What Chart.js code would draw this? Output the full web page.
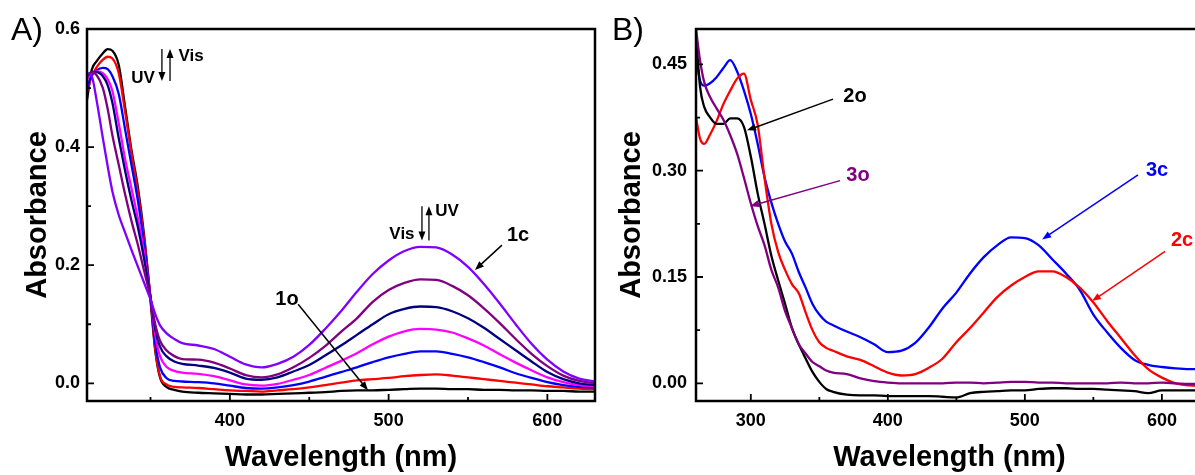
<!DOCTYPE html>
<html>
<head>
<meta charset="utf-8">
<script src="https://cdn.jsdelivr.net/npm/chart.js@4.4.1/dist/chart.umd.min.js"></script>
<style>
  html, body { margin: 0; padding: 0; background: #fff; overflow: hidden; }
  #wrap { position: relative; width: 1195px; height: 475px; overflow: hidden; }
  #chartA { position: absolute; left: 0; top: 0; }
  #chartB { position: absolute; left: 600px; top: 0; }
</style>
</head>
<body>
<div id="wrap">
  <canvas id="chartA" width="600" height="475"></canvas>
  <canvas id="chartB" width="620" height="475"></canvas>
</div>
<script>
// ---- panel A: photo-switching of 1 (1o -> 1c) ----
const wavelengthA = [310, 313, 316, 320, 323, 326, 330, 334, 338, 342, 346, 350, 353, 356, 360, 365, 370,
  380, 390, 400, 410, 420, 430, 440, 450, 460, 470, 480, 490, 500, 510, 520, 530, 540, 550, 560, 570, 580, 590, 600, 610, 620, 630];

const absA_black = [0.48, 0.531, 0.545, 0.559, 0.566, 0.563, 0.539, 0.468, 0.395, 0.333, 0.25, 0.14, 0.055, 0.01, -0.006, -0.011, -0.014,
  -0.016, -0.017, -0.018, -0.019, -0.019, -0.018, -0.017, -0.016, -0.015, -0.013, -0.012, -0.012, -0.011, -0.01, -0.009, -0.009, -0.01, -0.01, -0.011, -0.011, -0.012, -0.012, -0.013, -0.013, -0.014, -0.014];
const absA_red = [0.494, 0.52, 0.535, 0.548, 0.553, 0.55, 0.525, 0.46, 0.39, 0.325, 0.245, 0.145, 0.058, 0.012, -0.002, -0.006, -0.007,
  -0.008, -0.01, -0.012, -0.013, -0.014, -0.012, -0.01, -0.007, -0.003, 0.001, 0.005, 0.007, 0.009, 0.012, 0.014, 0.015, 0.013, 0.01, 0.007, 0.004, 0.001, -0.002, -0.005, -0.007, -0.009, -0.01];
const absA_blue = [0.5, 0.522, 0.53, 0.534, 0.532, 0.52, 0.49, 0.43, 0.37, 0.31, 0.235, 0.145, 0.068, 0.027, 0.009, 0.004, 0.003,
  0.002, 0.0, -0.004, -0.008, -0.009, -0.007, -0.003, 0.003, 0.011, 0.019, 0.027, 0.036, 0.044, 0.05, 0.054, 0.054, 0.05, 0.044, 0.036, 0.027, 0.017, 0.009, 0.002, -0.003, -0.006, -0.007];
const absA_magenta = [0.515, 0.525, 0.528, 0.525, 0.515, 0.495, 0.44, 0.38, 0.33, 0.28, 0.22, 0.145, 0.082, 0.046, 0.028, 0.021, 0.018,
  0.016, 0.012, 0.005, -0.002, -0.004, -0.001, 0.006, 0.014, 0.026, 0.038, 0.051, 0.066, 0.079, 0.088, 0.092, 0.091, 0.086, 0.076, 0.064, 0.049, 0.035, 0.022, 0.01, 0.002, -0.003, -0.005];
const absA_navy = [0.52, 0.527, 0.527, 0.52, 0.505, 0.475, 0.415, 0.36, 0.31, 0.265, 0.21, 0.145, 0.092, 0.062, 0.046, 0.037, 0.033,
  0.03, 0.026, 0.018, 0.008, 0.006, 0.01, 0.02, 0.031, 0.047, 0.064, 0.082, 0.1, 0.117, 0.126, 0.13, 0.129, 0.122, 0.11, 0.094, 0.075, 0.056, 0.037, 0.019, 0.007, 0.0, -0.003];
const absA_purple = [0.522, 0.527, 0.522, 0.5, 0.465, 0.42, 0.37, 0.32, 0.275, 0.235, 0.19, 0.145, 0.1, 0.072, 0.056, 0.046, 0.041,
  0.04, 0.035, 0.025, 0.014, 0.01, 0.015, 0.027, 0.043, 0.063, 0.087, 0.11, 0.138, 0.158, 0.17, 0.176, 0.175, 0.165, 0.149, 0.127, 0.102, 0.075, 0.05, 0.029, 0.013, 0.004, 0.0];
const absA_violet = [0.525, 0.52, 0.48, 0.415, 0.368, 0.325, 0.285, 0.255, 0.226, 0.198, 0.17, 0.142, 0.117, 0.098, 0.085, 0.075, 0.068,
  0.064, 0.058, 0.045, 0.032, 0.027, 0.033, 0.045, 0.065, 0.092, 0.122, 0.155, 0.185, 0.208, 0.224, 0.231, 0.23, 0.218, 0.197, 0.168, 0.135, 0.1, 0.067, 0.04, 0.02, 0.008, 0.003];

const xTicksA = [400, 500, 600];
const xMinorA = [350, 450, 550];
const yTicksA = [0.0, 0.2, 0.4, 0.6];
const yMinorA = [0.1, 0.3, 0.5];

// ---- panel B: open (2o, 3o) and closed (2c, 3c) forms ----
const wavelengthB = [260, 263, 266, 270, 275, 280, 285, 290, 295, 300, 305, 310, 315, 320, 325, 330, 335, 340, 345, 350, 355, 360,
  370, 380, 390, 400, 410, 420, 430, 440, 450, 460, 470, 480, 490, 500, 510, 520, 530, 540, 550, 560, 570, 580, 590, 600, 610, 620, 630];

const absB_2o = [0.492, 0.418, 0.39, 0.376, 0.366, 0.366, 0.374, 0.374, 0.362, 0.32, 0.268, 0.225, 0.18, 0.145, 0.112, 0.078, 0.055, 0.035, 0.016, 0.002, -0.008, -0.012,
  -0.016, -0.017, -0.017, -0.018, -0.018, -0.018, -0.018, -0.019, -0.02, -0.014, -0.012, -0.011, -0.01, -0.01, -0.008, -0.007, -0.007, -0.008, -0.008, -0.009, -0.01, -0.011, -0.014, -0.01, -0.01, -0.01, -0.01];
const absB_3o = [0.5, 0.455, 0.425, 0.405, 0.388, 0.372, 0.35, 0.324, 0.29, 0.254, 0.222, 0.195, 0.16, 0.135, 0.102, 0.078, 0.055, 0.042, 0.03, 0.024, 0.018, 0.015,
  0.013, 0.007, 0.003, 0.001, 0.0, 0.0, 0.0, 0.0, 0.001, 0.001, 0.0, 0.001, 0.002, 0.002, 0.001, 0.001, 0.0, 0.0, 0.0, 0.0, 0.001, 0.0, 0.0, 0.001, 0.0, -0.001, -0.001];
const absB_2c = [0.375, 0.345, 0.338, 0.35, 0.37, 0.394, 0.413, 0.43, 0.437, 0.4, 0.365, 0.29, 0.225, 0.185, 0.16, 0.14, 0.127, 0.1, 0.075, 0.058, 0.05, 0.046,
  0.038, 0.033, 0.024, 0.015, 0.011, 0.013, 0.022, 0.035, 0.058, 0.078, 0.1, 0.122, 0.138, 0.15, 0.158, 0.158, 0.15, 0.135, 0.114, 0.088, 0.064, 0.04, 0.02, 0.008, 0.0, -0.003, -0.004];
const absB_3c = [0.46, 0.427, 0.42, 0.423, 0.432, 0.445, 0.456, 0.44, 0.413, 0.38, 0.338, 0.291, 0.255, 0.225, 0.2, 0.183, 0.157, 0.135, 0.112, 0.097, 0.087, 0.082,
  0.073, 0.065, 0.055, 0.044, 0.046, 0.057, 0.079, 0.106, 0.128, 0.155, 0.178, 0.195, 0.206, 0.205, 0.195, 0.175, 0.155, 0.132, 0.097, 0.072, 0.05, 0.033, 0.026, 0.023, 0.021, 0.02, 0.02];

const xTicksB = [300, 400, 500, 600];
const xMinorB = [350, 450, 550];
const yTicksB = [0.0, 0.15, 0.30, 0.45];
const yMinorB = [0.075, 0.225, 0.375];

const FONT = '"Liberation Sans", Arial, Helvetica, sans-serif';

function series(xs, ys, color) {
    return {
        data: xs.map((x, i) => ({ x: x, y: ys[i] })),
        borderColor: color,
        borderWidth: 2.3,
        pointRadius: 0,
        cubicInterpolationMode: 'monotone',
        fill: false
    };
}

function arrow(ctx, x1, y1, x2, y2, color, width) {
    const ang = Math.atan2(y2 - y1, x2 - x1);
    const head = 9, half = 3.5;
    ctx.strokeStyle = color;
    ctx.fillStyle = color;
    ctx.lineWidth = width;
    ctx.beginPath();
    ctx.moveTo(x1, y1);
    ctx.lineTo(x2 - head * 0.7 * Math.cos(ang), y2 - head * 0.7 * Math.sin(ang));
    ctx.stroke();
    ctx.beginPath();
    ctx.moveTo(x2, y2);
    ctx.lineTo(x2 - head * Math.cos(ang) + half * Math.sin(ang), y2 - head * Math.sin(ang) - half * Math.cos(ang));
    ctx.lineTo(x2 - head * Math.cos(ang) - half * Math.sin(ang), y2 - head * Math.sin(ang) + half * Math.cos(ang));
    ctx.closePath();
    ctx.fill();
}

// frame, inward ticks, panel letter and the labels/arrows
const panelDecor = {
    id: 'panelDecor',
    afterDraw(chart, args, o) {
        const { ctx, chartArea: a } = chart;
        const x = chart.scales.x, y = chart.scales.y;
        ctx.save();
        ctx.strokeStyle = '#000';
        ctx.lineWidth = 2.5;
        ctx.strokeRect(a.left, a.top, a.right - a.left, a.bottom - a.top);

        ctx.lineWidth = 1.8;
        ctx.beginPath();
        o.xMajor.forEach(v => { const p = x.getPixelForValue(v); ctx.moveTo(p, a.bottom); ctx.lineTo(p, a.bottom - 7); });
        o.xMinor.forEach(v => { const p = x.getPixelForValue(v); ctx.moveTo(p, a.bottom); ctx.lineTo(p, a.bottom - 4); });
        o.yMajor.forEach(v => { const p = y.getPixelForValue(v); ctx.moveTo(a.left, p); ctx.lineTo(a.left + 7, p); });
        o.yMinor.forEach(v => { const p = y.getPixelForValue(v); ctx.moveTo(a.left, p); ctx.lineTo(a.left + 4, p); });
        ctx.stroke();

        ctx.fillStyle = '#000';
        ctx.font = '32px ' + FONT;
        ctx.textAlign = 'left';
        ctx.textBaseline = 'middle';
        ctx.fillText(o.panel, o.panelX, 31);

        ctx.textAlign = 'center';
        o.notes.forEach(n => {
            ctx.font = 'bold ' + n.size + 'px ' + FONT;
            ctx.fillStyle = n.color;
            ctx.fillText(n.text, x.getPixelForValue(n.at[0]), y.getPixelForValue(n.at[1]));
        });
        o.arrows.forEach(r => {
            arrow(ctx, x.getPixelForValue(r.from[0]), y.getPixelForValue(r.from[1]),
                x.getPixelForValue(r.to[0]), y.getPixelForValue(r.to[1]), r.color, r.width || 1.5);
        });
        ctx.restore();
    }
};

function makeOptions(cfg) {
    return {
        responsive: false,
        animation: false,
        devicePixelRatio: 1,
        layout: { padding: { top: 29, right: cfg.padRight, left: 0, bottom: 0 } },
        plugins: {
            legend: { display: false },
            tooltip: { enabled: false },
            panelDecor: cfg.decor
        },
        scales: {
            x: {
                type: 'linear',
                min: cfg.xMin,
                max: cfg.xMax,
                afterFit: s => { s.height = 74; },
                afterBuildTicks: s => { s.ticks = cfg.xTicks.map(v => ({ value: v })); },
                grid: { display: false, drawTicks: false },
                border: { display: false },
                ticks: {
                    autoSkip: false,
                    maxRotation: 0,
                    padding: 9,
                    color: '#000',
                    font: { family: FONT, size: 18, weight: 'bold' },
                    callback: v => String(v)
                },
                title: {
                    display: true,
                    text: 'Wavelength (nm)',
                    color: '#000',
                    padding: { top: 0, bottom: 0 },
                    font: { family: FONT, size: 29, weight: 'bold' }
                }
            },
            y: {
                min: cfg.yMin,
                max: cfg.yMax,
                afterFit: s => { s.width = cfg.yWidth; },
                afterBuildTicks: s => { s.ticks = cfg.yTicks.map(v => ({ value: v })); },
                grid: { display: false, drawTicks: false },
                border: { display: false },
                ticks: {
                    autoSkip: false,
                    padding: cfg.yPad,
                    color: '#000',
                    font: { family: FONT, size: 18, weight: 'bold' },
                    callback: v => v.toFixed(cfg.digits)
                },
                title: {
                    display: true,
                    text: 'Absorbance',
                    color: '#000',
                    padding: { top: cfg.yTitlePad, bottom: 0 },
                    font: { family: FONT, size: 29, weight: 'bold' }
                }
            }
        }
    };
}

new Chart(document.getElementById('chartA'), {
    type: 'line',
    data: {
        datasets: [
            series(wavelengthA, absA_violet, '#8000ff'),
            series(wavelengthA, absA_purple, '#800080'),
            series(wavelengthA, absA_navy, '#000080'),
            series(wavelengthA, absA_magenta, '#ff00ff'),
            series(wavelengthA, absA_blue, '#0000ff'),
            series(wavelengthA, absA_red, '#ff0000'),
            series(wavelengthA, absA_black, '#000000')
        ]
    },
    options: makeOptions({
        xMin: 310, xMax: 630, yMin: -0.03, yMax: 0.6,
        xTicks: xTicksA, yTicks: yTicksA, digits: 1,
        yWidth: 87, yPad: 7, yTitlePad: 21, padRight: 5,
        decor: {
            panel: 'A)', panelX: 11,
            xMajor: xTicksA, xMinor: xMinorA, yMajor: yTicksA, yMinor: yMinorA,
            notes: [
                { text: 'UV', at: [345.3, 0.517], size: 17, color: '#000' },
                { text: 'Vis', at: [375.5, 0.553], size: 17, color: '#000' },
                { text: 'Vis', at: [508.4, 0.253], size: 17, color: '#000' },
                { text: 'UV', at: [536.8, 0.292], size: 17, color: '#000' },
                { text: '1c', at: [581.5, 0.251], size: 20, color: '#000' },
                { text: '1o', at: [436, 0.142], size: 20, color: '#000' }
            ],
            arrows: [
                { from: [357.2, 0.566], to: [357.2, 0.512], color: '#000', width: 1.3 },
                { from: [362.3, 0.512], to: [362.3, 0.566], color: '#000', width: 1.3 },
                { from: [521, 0.3], to: [521, 0.242], color: '#000', width: 1.3 },
                { from: [525.4, 0.242], to: [525.4, 0.3], color: '#000', width: 1.3 },
                { from: [571.4, 0.234], to: [554.4, 0.192], color: '#000', width: 1.5 },
                { from: [443, 0.134], to: [487, -0.012], color: '#000', width: 1.5 }
            ]
        }
    }),
    plugins: [panelDecor]
});

new Chart(document.getElementById('chartB'), {
    type: 'line',
    data: {
        datasets: [
            series(wavelengthB, absB_3o, '#800080'),
            series(wavelengthB, absB_2o, '#000000'),
            series(wavelengthB, absB_2c, '#ff0000'),
            series(wavelengthB, absB_3c, '#0000ff')
        ]
    },
    options: makeOptions({
        xMin: 260, xMax: 630, yMin: -0.025, yMax: 0.5,
        xTicks: xTicksB, yTicks: yTicksB, digits: 2,
        yWidth: 96, yPad: 9, yTitlePad: 15, padRight: 17,
        decor: {
            panel: 'B)', panelX: 12,
            xMajor: xTicksB, xMinor: xMinorB, yMajor: yTicksB, yMinor: yMinorB,
            notes: [
                { text: '2o', at: [376, 0.405], size: 20, color: '#000' },
                { text: '3o', at: [378.2, 0.293], size: 20, color: '#800080' },
                { text: '3c', at: [596.5, 0.301], size: 20, color: '#0000ff' },
                { text: '2c', at: [614.7, 0.202], size: 20, color: '#ff0000' }
            ],
            arrows: [
                { from: [360, 0.401], to: [297.2, 0.357], color: '#000' },
                { from: [365.1, 0.286], to: [299.4, 0.25], color: '#800080' },
                { from: [582.6, 0.294], to: [512.6, 0.203], color: '#0000ff' },
                { from: [602.3, 0.186], to: [549, 0.116], color: '#ff0000' }
            ]
        }
    }),
    plugins: [panelDecor]
});
</script>
</body>
</html>
